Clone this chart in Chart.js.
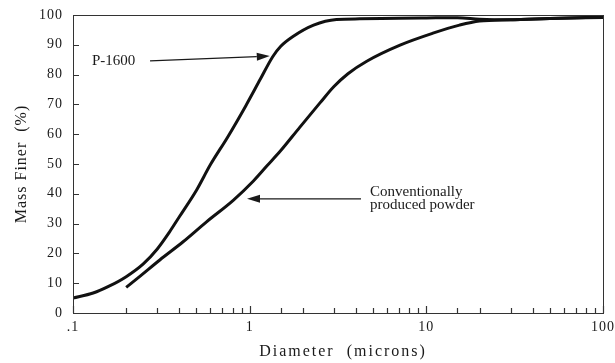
<!DOCTYPE html>
<html>
<head>
<meta charset="utf-8">
<script src="https://cdn.jsdelivr.net/npm/chart.js@4/dist/chart.umd.min.js"></script>
<style>
  html, body { margin: 0; padding: 0; background: #fff; }
  #wrap { width: 615px; height: 363px; }
</style>
</head>
<body>
<div id="wrap"><canvas id="psd"></canvas></div>
<script>
// particle size curves (diameter in microns, % finer)
const p1600Diam = [0.1, 0.13, 0.16, 0.2, 0.25, 0.3, 0.35, 0.4, 0.5, 0.6, 0.75, 0.95, 1.15, 1.35, 1.5, 1.75, 2.3, 3.1, 4.2, 7, 10, 15, 20, 30, 50, 100];
const p1600Mass = [5, 6.7, 9, 12.2, 16.5, 21.5, 27, 32.3, 41.2, 49.8, 59, 69.5, 78.5, 86, 89.5, 92.7, 96.6, 98.5, 98.7, 98.9, 99.0, 99.1, 98.6, 98.4, 98.8, 99.2];

const convDiam = [0.2, 0.24, 0.31, 0.42, 0.57, 0.81, 1.05, 1.25, 1.5, 1.92, 2.5, 3.0, 3.6, 4.6, 7.1, 10.9, 15.4, 20, 30, 50, 100];
const convMass = [8.6, 12.4, 17.8, 23.9, 30.6, 37.9, 44.3, 49.3, 54.5, 62.3, 70.5, 76, 80.3, 84.5, 89.9, 93.9, 96.6, 98, 98.4, 98.8, 99.3];

const xTickLabels = { 0.1: ".1", 1: "1", 10: "10", 100: "100" };
const xTitle = "Diameter  (microns)";

// annotation anchors, in data units
const p1600Label = { text: "P-1600", x: 0.128, y: 84.6 };
const p1600Arrow = { from: [0.273, 84.6], to: [1.3, 86.2] };
const convLabel = { lines: ["Conventionally", "produced powder"], x: 4.8, y: 40.6 };
const convArrow = { from: [4.27, 38.3], to: [0.966, 38.3] };

const ink = "#1a1a1a";
const serif = "'Liberation Serif', 'DejaVu Serif', serif";

const pts = (xs, ys) => xs.map((x, i) => ({ x, y: ys[i] }));

function arrow(ctx, x1, y1, x2, y2) {
  const a = Math.atan2(y2 - y1, x2 - x1);
  const len = 13, w = 4;
  ctx.beginPath();
  ctx.moveTo(x1, y1);
  ctx.lineTo(x2 - len * Math.cos(a), y2 - len * Math.sin(a));
  ctx.stroke();
  ctx.beginPath();
  ctx.moveTo(x2, y2);
  ctx.lineTo(x2 - len * Math.cos(a) + w * Math.sin(a), y2 - len * Math.sin(a) - w * Math.cos(a));
  ctx.lineTo(x2 - len * Math.cos(a) - w * Math.sin(a), y2 - len * Math.sin(a) + w * Math.cos(a));
  ctx.closePath();
  ctx.fill();
}

const spacing = {
  id: "spacing",
  beforeUpdate(chart) { chart.ctx.letterSpacing = "1px"; },
  beforeDraw(chart) { chart.ctx.letterSpacing = "1px"; }
};

// box round the plot, inward tick marks, x title, arrows and labels
const frame = {
  id: "frame",
  afterDatasetsDraw(chart) {
    const { ctx, chartArea: a, scales: { x, y } } = chart;
    ctx.save();
    ctx.strokeStyle = "#333";
    ctx.lineWidth = 1;
    ctx.strokeRect(a.left + 0.5, a.top + 0.5, a.right - a.left, a.bottom - a.top);

    ctx.lineWidth = 1.2;
    ctx.beginPath();
    x.ticks.forEach(t => {
      const px = Math.round(x.getPixelForValue(t.value)) + 0.5;
      const len = xTickLabels[t.value] ? 7 : 5;
      ctx.moveTo(px, a.bottom);
      ctx.lineTo(px, a.bottom - len);
    });
    y.ticks.forEach(t => {
      const py = Math.round(y.getPixelForValue(t.value)) + 0.5;
      ctx.moveTo(a.left, py);
      ctx.lineTo(a.left + 6, py);
    });
    ctx.stroke();

    ctx.fillStyle = ink;
    ctx.strokeStyle = ink;
    ctx.textBaseline = "middle";

    ctx.letterSpacing = "2px";
    ctx.font = "16px " + serif;
    ctx.textAlign = "center";
    ctx.fillText(xTitle, (a.left + a.right) / 2 + 5, 352);

    ctx.letterSpacing = "0px";
    ctx.font = "15px " + serif;
    ctx.textAlign = "left";
    ctx.lineWidth = 1.3;
    ctx.fillText(p1600Label.text, x.getPixelForValue(p1600Label.x), y.getPixelForValue(p1600Label.y));
    arrow(ctx, x.getPixelForValue(p1600Arrow.from[0]), y.getPixelForValue(p1600Arrow.from[1]),
      x.getPixelForValue(p1600Arrow.to[0]), y.getPixelForValue(p1600Arrow.to[1]));

    convLabel.lines.forEach((t, i) => {
      ctx.fillText(t, x.getPixelForValue(convLabel.x), y.getPixelForValue(convLabel.y) + i * 13.5);
    });
    arrow(ctx, x.getPixelForValue(convArrow.from[0]), y.getPixelForValue(convArrow.from[1]),
      x.getPixelForValue(convArrow.to[0]), y.getPixelForValue(convArrow.to[1]));
    ctx.restore();
  }
};

const line = {
  showLine: true,
  borderColor: "#111",
  borderWidth: 3,
  pointRadius: 0,
  cubicInterpolationMode: "monotone",
  fill: false
};

new Chart(document.getElementById("psd"), {
  type: "scatter",
  data: {
    datasets: [
      { label: "P-1600", data: pts(p1600Diam, p1600Mass), ...line },
      { label: "Conventionally produced powder", data: pts(convDiam, convMass), ...line }
    ]
  },
  options: {
    responsive: true,
    maintainAspectRatio: false,
    animation: false,
    layout: { padding: { top: 15, right: 12, left: 0, bottom: 0 } },
    plugins: { legend: { display: false }, tooltip: { enabled: false } },
    scales: {
      x: {
        type: "logarithmic",
        min: 0.1,
        max: 100,
        afterFit: s => { s.height = 50; s.paddingLeft = 0; s.paddingRight = 0; },
        border: { color: "#333", width: 1 },
        grid: { drawOnChartArea: false, drawTicks: false },
        ticks: {
          color: ink,
          font: { family: serif, size: 14 },
          padding: 6,
          autoSkip: false,
          maxRotation: 0,
          callback: v => xTickLabels[v] || ""
        },
        title: { display: false }
      },
      y: {
        min: 0,
        max: 100,
        afterFit: s => { s.width = 73; s.paddingTop = 0; s.paddingBottom = 0; },
        border: { color: "#333", width: 1 },
        grid: { drawOnChartArea: false, drawTicks: false },
        ticks: {
          stepSize: 5,
          color: ink,
          font: { family: serif, size: 14 },
          padding: 10,
          callback: v => (v % 10 === 0 ? v : "")
        },
        title: {
          display: true,
          text: "Mass Finer  (%)",
          color: ink,
          font: { family: serif, size: 16 },
          padding: { top: 12, bottom: 0 }
        }
      }
    }
  },
  plugins: [spacing, frame]
});
</script>
</body>
</html>
